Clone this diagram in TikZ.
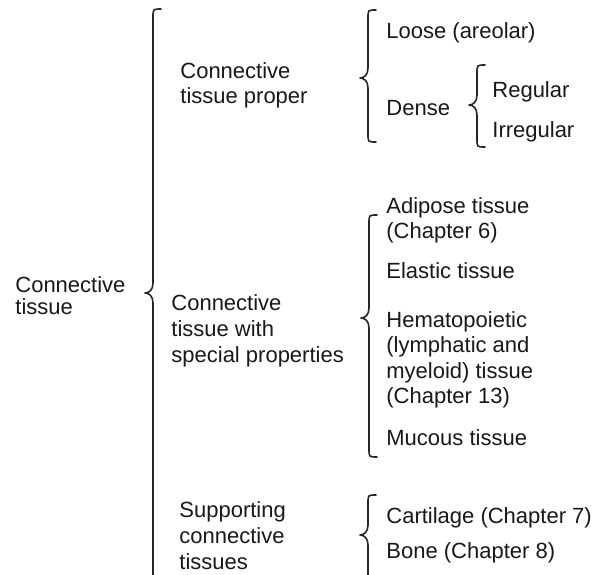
\documentclass[tikz,border=0pt]{standalone}
\usepackage{fontspec}
\setmainfont{Liberation Sans}
\newcommand\txtlines[1]{\begin{tabular}[t]{@{}l@{}}#1\end{tabular}}
% #1 x of vertical stroke, #2 top y, #3 tip y, #4 bottom y
\newcommand\cbrace[4]{%
  \draw[bracestyle] ({#1+8},#2) .. controls (#1,#2) .. (#1,{#2+8})
    -- (#1,{#3-10}) .. controls (#1,{#3-3}) and ({#1-4},#3) .. ({#1-8},#3)
    .. controls ({#1-4},#3) and (#1,{#3+3}) .. (#1,{#3+10})
    -- (#1,{#4-8}) .. controls (#1,#4) .. ({#1+8},#4);}
\begin{document}
\begin{tikzpicture}[x=0.5pt,y=-0.5pt,
  bracestyle/.style={line width=0.8pt,line cap=round,line join=round,black!85},
  lbl/.style={anchor=base west,inner sep=0pt,text=black!90,
    font=\fontsize{11}{12.75}\selectfont},
  lbltight/.style={lbl,font=\fontsize{11}{11.25}\selectfont}]
\useasboundingbox (0,0) rectangle (605,574);
\fill[white] (0,0) rectangle (605,574);
\clip (0,0) rectangle (605,574);
% labels
\node[lbltight] (ct) at (15,292) {\txtlines{Connective\\tissue}};
\node[lbl] (ctp) at (180,78) {\txtlines{Connective\\tissue proper}};
\node[lbl,font=\fontsize{11}{13}\selectfont] (ctsp) at (171,310) {\txtlines{Connective\\tissue with\\special properties}};
\node[lbl,font=\fontsize{11}{13}\selectfont] (sct) at (179,517) {\txtlines{Supporting\\connective\\tissues}};
\node[lbl] (loose) at (386,38) {Loose (areolar)};
\node[lbl] (dense) at (386,115) {Dense};
\node[lbl] (regular) at (492,97) {Regular};
\node[lbl] (irregular) at (492,137) {Irregular};
\node[lbl] (adipose) at (386,213) {\txtlines{Adipose tissue\\(Chapter 6)}};
\node[lbl] (elastic) at (386,278) {Elastic tissue};
\node[lbl] (hema) at (386,327) {\txtlines{Hematopoietic\\(lymphatic and\\myeloid) tissue\\(Chapter 13)}};
\node[lbl] (mucous) at (386,445) {Mucous tissue};
\node[lbl] (cart) at (386,523) {Cartilage (Chapter 7)};
\node[lbl] (bone) at (386,558) {Bone (Chapter 8)};
% braces
\cbrace{153}{9}{293}{620}
\cbrace{368}{10}{78}{142}
\cbrace{477}{65}{105}{147}
\cbrace{369}{215}{318}{457}
\cbrace{368}{495}{535}{620}
\end{tikzpicture}
\end{document}
